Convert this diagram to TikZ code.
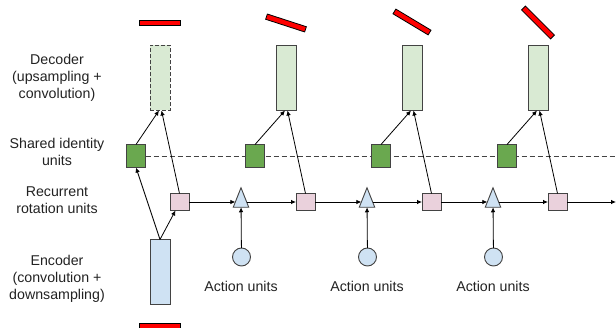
\documentclass[tikz,border=0pt]{standalone}
\usepackage{fontspec}
\setmainfont{Liberation Sans}
\usetikzlibrary{arrows.meta,shapes.geometric,calc,backgrounds}
\definecolor{bordergray}{HTML}{434343}
\definecolor{decgreen}{HTML}{D9EAD3}
\definecolor{idgreen}{HTML}{6AA84F}
\definecolor{rotpink}{HTML}{EAD1DC}
\definecolor{encblue}{HTML}{CFE2F3}
\definecolor{barred}{HTML}{FF0000}
\definecolor{txtgray}{HTML}{222222}
\begin{document}
\begin{tikzpicture}[x=1pt,y=-1pt,
  box/.style={draw=bordergray, line width=0.9pt, inner sep=0pt, outer sep=0pt},
  decbox/.style={box, fill=decgreen, minimum width=20pt, minimum height=65pt},
  encbox/.style={box, fill=encblue, minimum width=20pt, minimum height=65pt},
  idbox/.style={box, fill=idgreen, minimum width=19pt, minimum height=23pt},
  rotbox/.style={box, fill=rotpink, minimum width=19pt, minimum height=17pt},
  actcirc/.style={box, circle, fill=encblue, minimum size=18pt},
  acttri/.style={box, isosceles triangle, isosceles triangle stretches, shape border rotate=90, fill=encblue, minimum width=15.5pt, minimum height=19.5pt},
  redbar/.style={draw=black, line width=0.8pt, fill=barred, inner sep=0pt, minimum width=41pt, minimum height=5.5pt},
  arr/.style={draw=black, line width=0.8pt, -{Latex[length=5pt,width=4.5pt]}},
  lbl/.style={font=\fontsize{14.2}{16.8}\selectfont, text=txtgray, align=center, inner sep=0pt},
  idline/.style={draw=bordergray, line width=0.9pt, dash pattern=on 5pt off 3pt}
]
\useasboundingbox (0,0) rectangle (616,328);
% labels
\node[lbl] (ldec) at (57,78) {Decoder\\(upsampling +\\convolution)};
\node[lbl] (lid) at (57,152) {Shared identity\\units};
\node[lbl] (lrot) at (57,200) {Recurrent\\rotation units};
\node[lbl] (lenc) at (57,279) {Encoder\\(convolution +\\downsampling)};
% red bars
\node[redbar] (r1) at (160,23) {};
\node[redbar, rotate=-18] (r2) at (286,23) {};
\node[redbar, rotate=-31] (r3) at (412,22) {};
\node[redbar, rotate=-45] (r4) at (538,22.5) {};
\node[redbar] (r0) at (160,326) {};
% decoders
\node[decbox, dash pattern=on 4pt off 2pt] (d1) at (160,78) {};
\node[decbox] (d2) at (286,78) {};
\node[decbox] (d3) at (412,78) {};
\node[decbox] (d4) at (538,78) {};
% identity units
\node[idbox] (g1) at (136,156) {};
\node[idbox] (g2) at (255,156) {};
\node[idbox] (g3) at (381,156) {};
\node[idbox] (g4) at (507,156) {};
% rotation units
\node[rotbox] (p1) at (179.5,202) {};
\node[rotbox] (p2) at (305.5,202) {};
\node[rotbox] (p3) at (431.5,202) {};
\node[rotbox] (p4) at (557.5,202) {};
% action triangles and circles
\node[acttri] (t1) at (241,202) {};
\node[acttri] (t2) at (367,202) {};
\node[acttri] (t3) at (493,202) {};
\node[actcirc] (c1) at (241.5,257) {};
\node[actcirc] (c2) at (367.5,257) {};
\node[actcirc] (c3) at (493.5,257) {};
\node[lbl] (a1) at (241,286) {Action units};
\node[lbl] (a2) at (367,286) {Action units};
\node[lbl] (a3) at (493,286) {Action units};
% encoder
\node[encbox] (e) at (160,272) {};
\coordinate (rend) at (616,202);
\coordinate (dend) at (616,156);
% dashed identity line
\begin{scope}[on background layer]
\draw[idline] (g1.east) -- (dend);
\end{scope}
% connectors
\draw[arr] (e.north) -- (g1.south);
\draw[arr] (e.north) -- ($(p1.south)+(-4,0)$);
\draw[arr] (g1.north) -- ($(d1.south)+(-1,0)$);
\draw[arr] (p1.north) -- ($(d1.south)+(1.5,0)$);
\draw[arr] (g2.north) -- ($(d2.south)+(-1,0)$);
\draw[arr] (p2.north) -- ($(d2.south)+(1.5,0)$);
\draw[arr] (g3.north) -- ($(d3.south)+(-1,0)$);
\draw[arr] (p3.north) -- ($(d3.south)+(1.5,0)$);
\draw[arr] (g4.north) -- ($(d4.south)+(-1,0)$);
\draw[arr] (p4.north) -- ($(d4.south)+(1.5,0)$);
\draw[arr] (p1.east) -- (t1);
\draw[arr] (t1) -- (p2.west);
\draw[arr] (p2.east) -- (t2);
\draw[arr] (t2) -- (p3.west);
\draw[arr] (p3.east) -- (t3);
\draw[arr] (t3) -- (p4.west);
\draw[arr] (p4.east) -- (rend);
\draw[arr] (c1) -- (t1);
\draw[arr] (c2) -- (t2);
\draw[arr] (c3) -- (t3);
\end{tikzpicture}
\end{document}
